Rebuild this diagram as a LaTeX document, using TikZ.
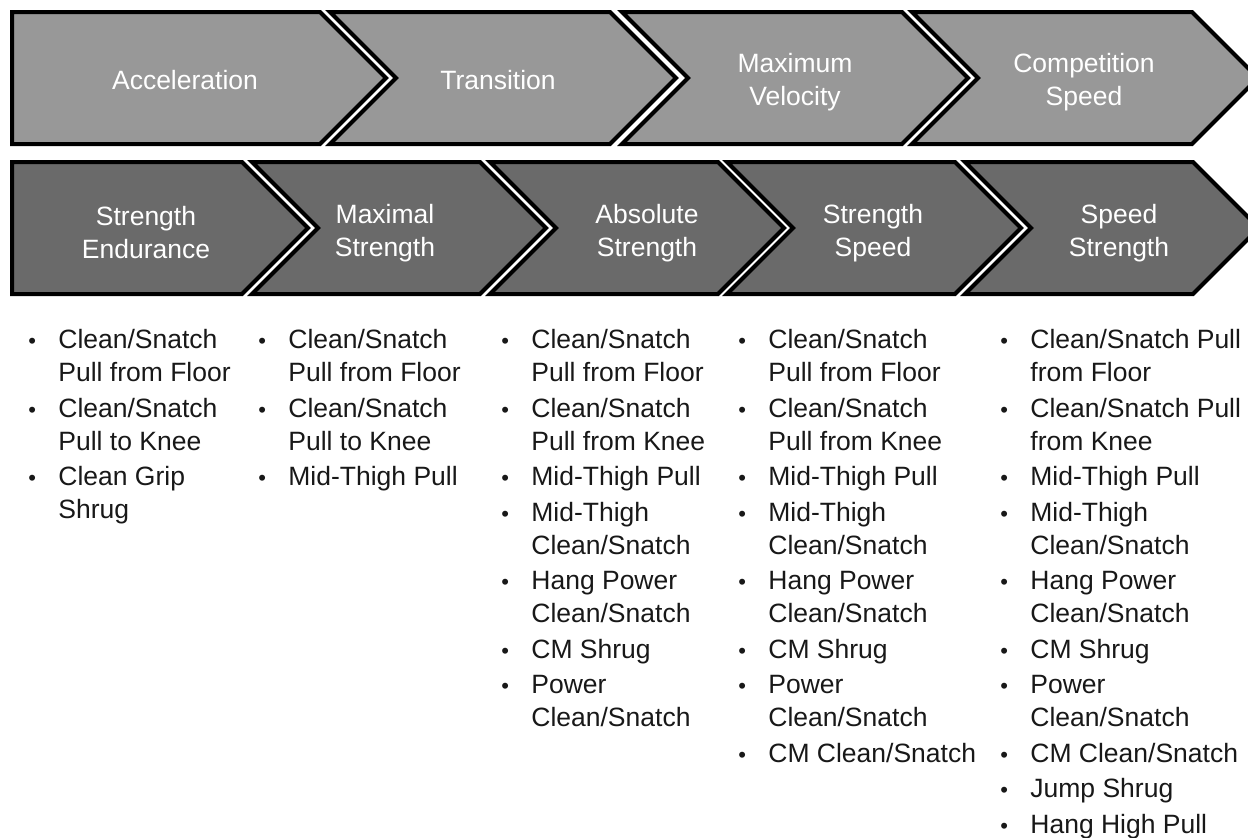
\documentclass[tikz,border=0pt]{standalone}
\usepackage{fontspec}
\setmainfont{Liberation Sans}
\definecolor{phasegray}{RGB}{152,152,152}
\definecolor{qualgray}{RGB}{106,106,106}
\definecolor{listink}{RGB}{24,24,24}
\newcommand{\bul}{\makebox[15pt][l]{\fontsize{11}{11}\selectfont •}}
\newcommand{\cont}{\makebox[15pt]{}}
\newcommand{\nx}{\\[1.25pt]}

\begin{document}
\begin{tikzpicture}[x=0.5pt,y=-0.5pt,
  chev/.style={draw=black,line width=2pt,line join=miter},
  phase/.style={chev,fill=phasegray},
  quality/.style={chev,fill=qualgray},
  head/.style={text=white,align=center,inner sep=0pt,font=\fontsize{13.25}{16.5}\selectfont},
  drills/.style={text=listink,align=left,anchor=north west,inner sep=0pt,font=\fontsize{13.25}{16.5}\selectfont}]
  \useasboundingbox (0,0) rectangle (1248,837);
  \clip (0,0) rectangle (1248,837);
  % speed phases
  \draw[phase] (12,12) -- (320,12) -- (386,78) -- (320,144) -- (12,144) -- cycle;
  \foreach \c in {610,902,1192}{
    \draw[phase] (\c-280,12) -- (\c,12) -- (\c+66,78) -- (\c,144) -- (\c-280,144) -- (\c-214,78) -- cycle;
  }
  % strength qualities
  \draw[quality] (12,162) -- (242,162) -- (308,228) -- (242,294) -- (12,294) -- cycle;
  \foreach \c in {480,718,955,1193}{
    \draw[quality] (\c-228,162) -- (\c,162) -- (\c+66,228) -- (\c,294) -- (\c-228,294) -- (\c-162,228) -- cycle;
  }
  \node[head] (accel) at (185,80) {Acceleration};
  \node[head] (trans) at (498,80) {Transition};
  \node[head] (maxvel) at (795,82) {Maximum\\Velocity};
  \node[head] (compspd) at (1084,82) {Competition\\Speed};
  \node[head] (strend) at (146,233) {Strength\\Endurance};
  \node[head] (maxstr) at (385,233) {Maximal\\Strength};
  \node[head] (absstr) at (647,233) {Absolute\\Strength};
  \node[head] (strspd) at (873,233) {Strength\\Speed};
  \node[head] (spdstr) at (1119,233) {Speed\\Strength};
  % exercise lists
  \node[drills] (endlist) at (28,329) {\bul Clean/Snatch\\\cont Pull from Floor\nx
    \bul Clean/Snatch\\\cont Pull to Knee\nx
    \bul Clean Grip\\\cont Shrug};
  \node[drills] (maxlist) at (258,329) {\bul Clean/Snatch\\\cont Pull from Floor\nx
    \bul Clean/Snatch\\\cont Pull to Knee\nx
    \bul Mid-Thigh Pull};
  \node[drills] (abslist) at (501,329) {\bul Clean/Snatch\\\cont Pull from Floor\nx
    \bul Clean/Snatch\\\cont Pull from Knee\nx
    \bul Mid-Thigh Pull\nx
    \bul Mid-Thigh\\\cont Clean/Snatch\nx
    \bul Hang Power\\\cont Clean/Snatch\nx
    \bul CM Shrug\nx
    \bul Power\\\cont Clean/Snatch};
  \node[drills] (spdlist) at (738,329) {\bul Clean/Snatch\\\cont Pull from Floor\nx
    \bul Clean/Snatch\\\cont Pull from Knee\nx
    \bul Mid-Thigh Pull\nx
    \bul Mid-Thigh\\\cont Clean/Snatch\nx
    \bul Hang Power\\\cont Clean/Snatch\nx
    \bul CM Shrug\nx
    \bul Power\\\cont Clean/Snatch\nx
    \bul CM Clean/Snatch};
  \node[drills] (pwrlist) at (1000,329) {\bul Clean/Snatch Pull\\\cont from Floor\nx
    \bul Clean/Snatch Pull\\\cont from Knee\nx
    \bul Mid-Thigh Pull\nx
    \bul Mid-Thigh\\\cont Clean/Snatch\nx
    \bul Hang Power\\\cont Clean/Snatch\nx
    \bul CM Shrug\nx
    \bul Power\\\cont Clean/Snatch\nx
    \bul CM Clean/Snatch\nx
    \bul Jump Shrug\nx
    \bul Hang High Pull};
\end{tikzpicture}
\end{document}
